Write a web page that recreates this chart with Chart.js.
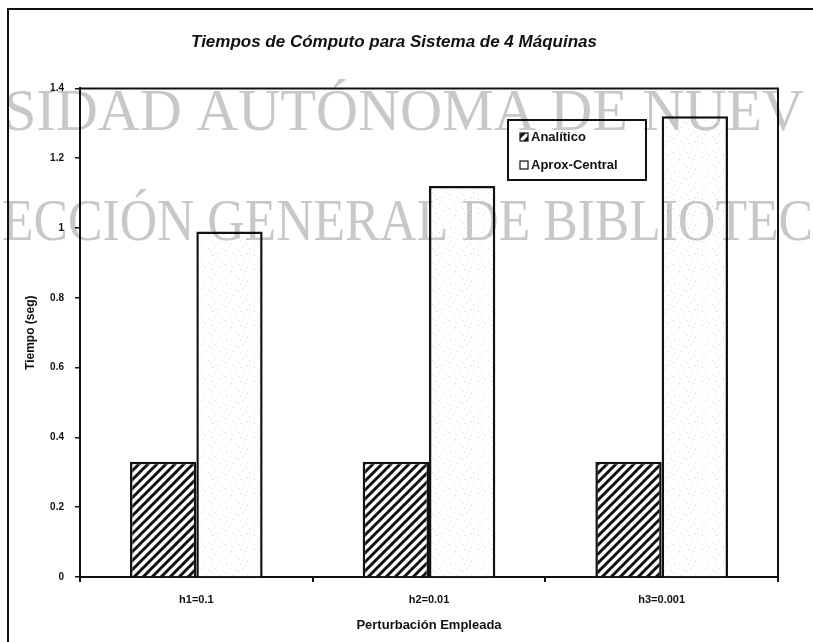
<!DOCTYPE html>
<html>
<head>
<meta charset="utf-8">
<script src="https://cdn.jsdelivr.net/npm/chart.js@4/dist/chart.umd.min.js"></script>
<style>
  html, body { margin: 0; padding: 0; background: #fff; }
  #wrap { width: 813px; height: 642px; position: relative; }
</style>
</head>
<body>
<div id="wrap"><canvas id="chart" width="813" height="642"></canvas></div>
<script>
const categories = ["h1=0.1", "h2=0.01", "h3=0.001"];
const analitico = [0.33, 0.33, 0.33];
const aproxCentral = [0.99, 1.12, 1.32];
const seriesNames = ["Analítico", "Aprox-Central"];
const yTicks = [0, 0.2, 0.4, 0.6, 0.8, 1, 1.2, 1.4];
const watermarkLines = ["SIDAD AUTÓNOMA DE NUEV", "ECCIÓN GENERAL DE BIBLIOTEC"];

// diagonal hatch for the first series
function hatchPattern() {
    const c = document.createElement("canvas");
    c.width = 9; c.height = 9;
    const g = c.getContext("2d");
    g.fillStyle = "#fff";
    g.fillRect(0, 0, 9, 9);
    g.strokeStyle = "#111";
    g.lineWidth = 3;
    g.beginPath();
    g.moveTo(-2, 11); g.lineTo(11, -2);
    g.moveTo(-11, 11); g.lineTo(2, -2);
    g.moveTo(7, 11); g.lineTo(20, -2);
    g.stroke();
    return g.createPattern(c, "repeat");
}

// light speckle for the second series
function specklePattern() {
    const c = document.createElement("canvas");
    c.width = 14; c.height = 14;
    const g = c.getContext("2d");
    g.fillStyle = "#fff";
    g.fillRect(0, 0, 14, 14);
    g.fillStyle = "rgba(150,150,150,0.35)";
    [[2, 3], [9, 1], [5, 8], [12, 10], [1, 12], [7, 5]].forEach(p => g.fillRect(p[0], p[1], 1, 1));
    return g.createPattern(c, "repeat");
}

const fills = [hatchPattern(), specklePattern()];

const frame = {
    id: "frame",
    beforeDraw(chart) {
        const ctx = chart.ctx;
        ctx.save();
        ctx.fillStyle = "#fff";
        ctx.fillRect(0, 0, chart.width, chart.height);
        ctx.strokeStyle = "#111";
        ctx.lineWidth = 2;
        ctx.beginPath();
        ctx.moveTo(8, chart.height);
        ctx.lineTo(8, 9);
        ctx.lineTo(chart.width, 9);
        ctx.stroke();
        ctx.restore();
    },
    afterDatasetsDraw(chart) {
        const a = chart.chartArea;
        const ctx = chart.ctx;
        ctx.save();
        ctx.strokeStyle = "#111";
        ctx.lineWidth = 2;
        ctx.beginPath();
        ctx.moveTo(a.left, a.top);
        ctx.lineTo(a.right, a.top);
        ctx.lineTo(a.right, a.bottom);
        ctx.stroke();

        // legend box inside the plot
        const lx = 508, ly = 120, lw = 138, lh = 60;
        ctx.fillStyle = "#fff";
        ctx.fillRect(lx, ly, lw, lh);
        ctx.lineWidth = 2;
        ctx.strokeRect(lx, ly, lw, lh);
        ctx.font = "bold 13px 'Liberation Sans', Arial, sans-serif";
        ctx.textBaseline = "middle";
        chart.data.datasets.forEach((ds, i) => {
            const yy = ly + 17 + i * 28;
            ctx.fillStyle = ds.backgroundColor;
            ctx.fillRect(lx + 12, yy - 4, 8, 8);
            ctx.lineWidth = 1.2;
            ctx.strokeRect(lx + 12, yy - 4, 8, 8);
            ctx.fillStyle = "#111";
            ctx.fillText(ds.label, lx + 23, yy);
        });
        ctx.restore();
    },
    afterDraw(chart) {
        const ctx = chart.ctx;
        ctx.save();
        ctx.globalCompositeOperation = "multiply";
        ctx.fillStyle = "#c8c8c8";
        ctx.font = "60px 'Liberation Serif', 'DejaVu Serif', serif";
        ctx.textBaseline = "alphabetic";
        ctx.fillText(watermarkLines[0], 4, 130, 800);
        ctx.fillText(watermarkLines[1], 2, 240, 811);
        ctx.restore();
    }
};

const ctx = document.getElementById("chart").getContext("2d");
const chart = new Chart(ctx, {
    type: "bar",
    data: {
        labels: categories,
        datasets: [{
            label: seriesNames[0],
            data: analitico,
            backgroundColor: fills[0],
            borderColor: "#111",
            borderWidth: 2.5
        }, {
            label: seriesNames[1],
            data: aproxCentral,
            backgroundColor: fills[1],
            borderColor: "#111",
            borderWidth: 2.5
        }]
    },
    options: {
        responsive: false,
        animation: false,
        layout: { padding: { left: 10, right: 35, top: 0, bottom: 0 } },
        datasets: {
            bar: { categoryPercentage: 0.57, barPercentage: 1.0 }
        },
        plugins: {
            legend: { display: false },
            tooltip: { enabled: false },
            title: {
                display: true,
                text: "Tiempos de Cómputo para Sistema de 4 Máquinas",
                color: "#111",
                font: { family: "'Liberation Sans', Arial, sans-serif", size: 17, weight: "bold", style: "italic" },
                padding: { top: 32, bottom: 36 }
            }
        },
        scales: {
            x: {
                afterFit: s => { s.height = 65; },
                grid: { drawOnChartArea: false, drawTicks: true, tickLength: 5, color: "#111", lineWidth: 2 },
                border: { color: "#111", width: 2 },
                ticks: {
                    color: "#111",
                    padding: 11,
                    font: { family: "'Liberation Sans', Arial, sans-serif", size: 11, weight: "bold" }
                },
                title: {
                    display: true,
                    text: "Perturbación Empleada",
                    color: "#111",
                    font: { family: "'Liberation Sans', Arial, sans-serif", size: 13, weight: "bold" },
                    padding: { top: 0, bottom: 9 }
                }
            },
            y: {
                min: 0,
                max: 1.4,
                afterFit: s => { s.width = 70; },
                afterBuildTicks: s => { s.ticks = yTicks.map(v => ({ value: v })); },
                grid: { drawOnChartArea: false, drawTicks: true, tickLength: 5, color: "#111", lineWidth: 1.5 },
                border: { color: "#111", width: 2 },
                ticks: {
                    color: "#111",
                    padding: 11,
                    font: { family: "'Liberation Sans', Arial, sans-serif", size: 10, weight: "bold" },
                    callback: v => String(+v.toFixed(1))
                },
                title: {
                    display: true,
                    text: "Tiempo (seg)",
                    color: "#111",
                    font: { family: "'Liberation Sans', Arial, sans-serif", size: 12, weight: "bold" },
                    padding: { top: 13, bottom: 0 }
                }
            }
        }
    },
    plugins: [frame]
});
</script>
</body>
</html>
